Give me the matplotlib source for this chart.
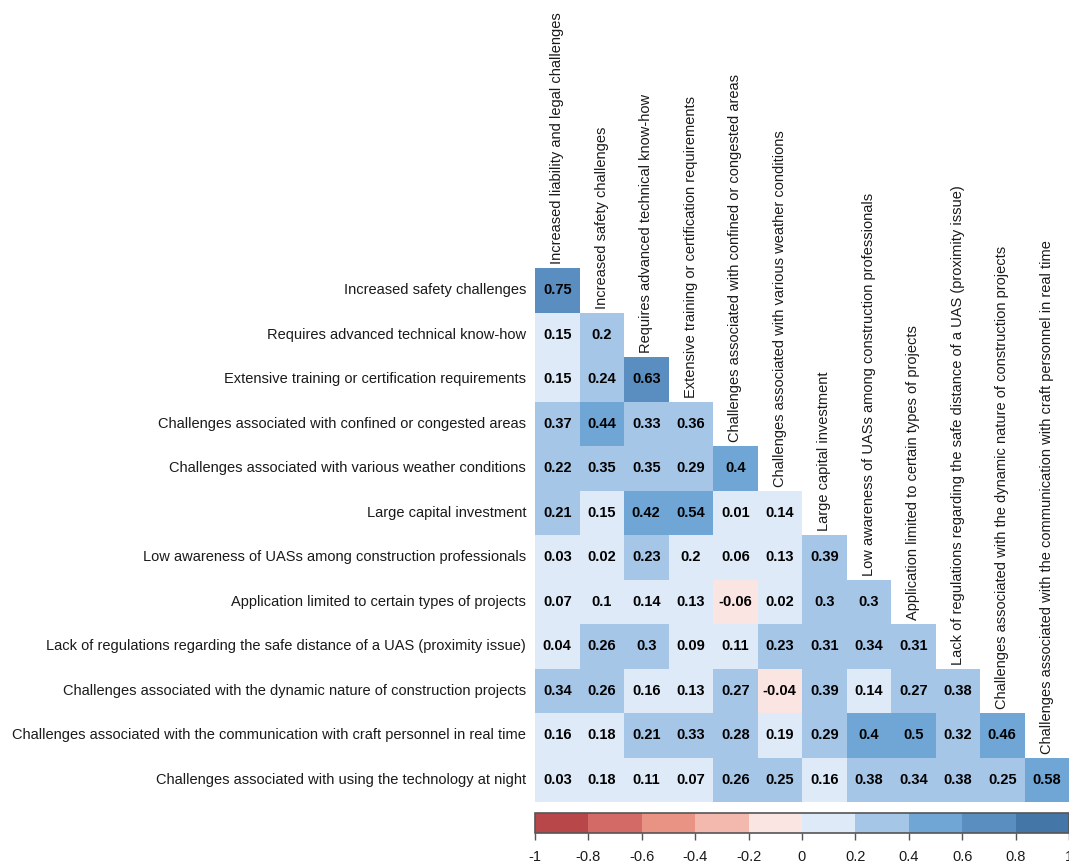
import numpy as np
import matplotlib.pyplot as plt
from matplotlib.colors import ListedColormap, BoundaryNorm

plt.rcParams['font.family'] = ['Liberation Sans', 'DejaVu Sans']

# variable names (13 barriers), first one only appears as a column
names = [
    "Increased liability and legal challenges",
    "Increased safety challenges",
    "Requires advanced technical know-how",
    "Extensive training or certification requirements",
    "Challenges associated with confined or congested areas",
    "Challenges associated with various weather conditions",
    "Large capital investment",
    "Low awareness of UASs among construction professionals",
    "Application limited to certain types of projects",
    "Lack of regulations regarding the safe distance of a UAS (proximity issue)",
    "Challenges associated with the dynamic nature of construction projects",
    "Challenges associated with the communication with craft personnel in real time",
    "Challenges associated with using the technology at night",
]

# lower triangle of the correlation matrix, row i has i values (i = 1..12)
corr_rows = [
    [0.75],
    [0.15, 0.203],
    [0.15, 0.24, 0.63],
    [0.37, 0.44, 0.33, 0.36],
    [0.22, 0.35, 0.35, 0.29, 0.401],
    [0.21, 0.15, 0.42, 0.54, 0.01, 0.14],
    [0.03, 0.02, 0.23, 0.197, 0.06, 0.13, 0.39],
    [0.07, 0.1, 0.14, 0.13, -0.06, 0.02, 0.3, 0.3],
    [0.04, 0.26, 0.3, 0.09, 0.11, 0.23, 0.31, 0.34, 0.31],
    [0.34, 0.26, 0.16, 0.13, 0.27, -0.04, 0.39, 0.14, 0.27, 0.38],
    [0.16, 0.18, 0.21, 0.33, 0.28, 0.19, 0.29, 0.402, 0.5, 0.32, 0.46],
    [0.03, 0.18, 0.11, 0.07, 0.26, 0.25, 0.16, 0.38, 0.34, 0.38, 0.25, 0.58],
]

bin_colors = ["#B8474A", "#D46A65", "#E99384", "#F3B9AF", "#FBE5E2",
              "#DEEAF7", "#A6C6E8", "#6FA6D6", "#5A8EC1", "#4477A8"]
bounds = np.linspace(-1, 1, 11)
cmap = ListedColormap(bin_colors)
norm = BoundaryNorm(bounds, cmap.N)

n = len(corr_rows)
mat = np.full((n, n), np.nan)
for i, row in enumerate(corr_rows):
    mat[i, :len(row)] = row

W, H = 1069, 867
fig = plt.figure(figsize=(W / 100, H / 100), dpi=100)

x0, cell = 535, 44.5
y_top = 268
ax = fig.add_axes([x0 / W, 1 - (y_top + n * cell) / H, n * cell / W, n * cell / H])
ax.pcolormesh(np.arange(n + 1), np.arange(n + 1), np.ma.masked_invalid(mat),
              cmap=cmap, norm=norm)
ax.set_xlim(0, n)
ax.set_ylim(n, 0)
ax.axis('off')

for i in range(n):
    for j in range(i + 1):
        v = mat[i, j]
        ax.text(j + 0.5, i + 0.5, f"{round(v, 2):g}", ha='center', va='center',
                fontsize=10.5, fontweight='bold', color='black')
    # row labels
    ax.text(-0.2, i + 0.5, names[i + 1], ha='right', va='center',
            fontsize=10.5, color='#1a1a1a', clip_on=False)
    # column labels, sitting above the first cell of each column
    ax.text(i + 0.5, i - 0.08, names[i], ha='center', va='bottom', rotation=90,
            fontsize=10.5, color='#1a1a1a', clip_on=False)

# colour legend
cax = fig.add_axes([x0 / W, 1 - 833 / H, (W - x0) / W, 20 / H])
sm = plt.cm.ScalarMappable(cmap=cmap, norm=norm)
cb = fig.colorbar(sm, cax=cax, orientation='horizontal', ticks=bounds)
cb.ax.set_xticklabels([f"{t:g}" for t in np.round(bounds, 1)])
cb.ax.tick_params(labelsize=10.5, length=5, width=1, color='#555555', pad=7,
                  labelcolor='#1a1a1a')
cb.outline.set_edgecolor('#555555')
cb.outline.set_linewidth(1.2)

fig.savefig('out.png', dpi=100)
